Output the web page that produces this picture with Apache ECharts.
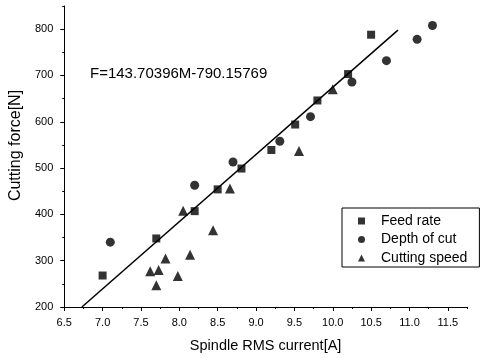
<!DOCTYPE html>
<html>
<head>
<meta charset="utf-8">
<script src="https://cdn.jsdelivr.net/npm/echarts@6/dist/echarts.min.js"></script>
<style>
  html, body { margin: 0; padding: 0; background: #fff; }
  #chart { width: 482px; height: 358px; }
</style>
</head>
<body>
<div id="chart"></div>
<script>
// values
const feedRate = [
  [7.0, 268], [7.7, 348], [8.2, 407], [8.5, 454], [8.81, 499],
  [9.2, 539], [9.51, 594], [9.8, 646], [10.2, 703], [10.5, 788],
];
const depthOfCut = [
  [7.1, 340], [8.2, 463], [8.7, 513], [9.31, 558], [9.71, 611],
  [10.25, 686], [10.7, 732], [11.1, 778], [11.3, 808],
];
const cuttingSpeed = [
  [7.62, 277], [7.7, 247], [7.73, 280], [7.82, 305], [7.98, 267],
  [8.05, 408], [8.14, 313], [8.44, 366], [8.66, 456], [9.56, 537], [10.0, 670],
];
// fitted line as drawn (end points)
const fitLine = [[6.73, 200], [10.85, 798]];
const equationText = "F=143.70396M-790.15769";

const xMajorTicks = [6.5, 7.0, 7.5, 8.0, 8.5, 9.0, 9.5, 10.0, 10.5, 11.0, 11.5];
const yMajorTicks = [200, 300, 400, 500, 600, 700, 800];
const xRange = [6.5, 11.75];
const yRange = [200, 850];

const font = '"Liberation Sans", Arial, sans-serif';
const black = "#000";

const chart = echarts.init(document.getElementById("chart"), null, { renderer: "canvas" });

const axisLine = { show: true, onZero: false, lineStyle: { color: black, width: 1 } };

chart.setOption({
  animation: false,
  backgroundColor: "#fff",
  grid: { left: 64, right: 15, top: 6, bottom: 50 },
  graphic: [{
    type: "text",
    left: 90,
    top: 66,
    style: { text: equationText, font: "15px " + font, fill: black },
  }],
  legend: {
    data: ["Feed rate", "Depth of cut", "Cutting speed"],
    orient: "vertical",
    left: 342,
    top: 208,
    padding: [5, 12, 1, 16],
    itemWidth: 7,
    itemHeight: 7,
    itemGap: 2.5,
    borderColor: black,
    borderWidth: 1,
    borderRadius: 0,
    textStyle: {
      color: black,
      fontSize: 14,
      fontFamily: font,
      lineHeight: 16,
      padding: [0, 0, 0, 11],
    },
  },
  xAxis: [{
    // major ticks + labels
    type: "value",
    position: "bottom",
    min: xRange[0],
    max: xRange[1],
    axisLine: axisLine,
    axisTick: { show: true, length: 4, customValues: xMajorTicks, lineStyle: { color: black } },
    axisLabel: {
      customValues: xMajorTicks,
      color: black,
      fontSize: 11,
      fontFamily: font,
      margin: 10,
      formatter: (v) => v.toFixed(1),
    },
    splitLine: { show: false },
    name: "Spindle RMS current[A]",
    nameLocation: "middle",
    nameGap: 31,
    nameTextStyle: { color: black, fontSize: 14.5, fontFamily: font },
  }, {
    // minor ticks
    type: "value",
    position: "bottom",
    min: xRange[0],
    max: xRange[1],
    interval: 0.25,
    axisLine: { show: false },
    axisTick: { show: true, length: 2, lineStyle: { color: black } },
    axisLabel: { show: false },
    splitLine: { show: false },
  }],
  yAxis: [{
    type: "value",
    position: "left",
    min: yRange[0],
    max: yRange[1],
    axisLine: axisLine,
    axisTick: { show: true, length: 4, customValues: yMajorTicks, lineStyle: { color: black } },
    axisLabel: {
      customValues: yMajorTicks,
      color: black,
      fontSize: 11,
      fontFamily: font,
      margin: 11,
    },
    splitLine: { show: false },
    name: "Cutting force[N]",
    nameLocation: "middle",
    nameGap: 38,
    nameTextStyle: { color: black, fontSize: 16, fontFamily: font, padding: [0, 0, 0, 22] },
  }, {
    type: "value",
    position: "left",
    min: yRange[0],
    max: yRange[1],
    interval: 50,
    axisLine: { show: false },
    axisTick: { show: true, length: 2, lineStyle: { color: black } },
    axisLabel: { show: false },
    splitLine: { show: false },
  }],
  series: [{
    name: "fit",
    type: "line",
    data: fitLine,
    symbol: "none",
    lineStyle: { color: black, width: 1.5 },
    z: 1,
  }, {
    name: "Feed rate",
    type: "scatter",
    data: feedRate,
    symbol: "rect",
    symbolSize: 8,
    itemStyle: { color: black },
  }, {
    name: "Depth of cut",
    type: "scatter",
    data: depthOfCut,
    symbol: "circle",
    symbolSize: 9,
    itemStyle: { color: black },
  }, {
    name: "Cutting speed",
    type: "scatter",
    data: cuttingSpeed,
    symbol: "triangle",
    symbolSize: 10,
    itemStyle: { color: black },
  }],
});
</script>
</body>
</html>
